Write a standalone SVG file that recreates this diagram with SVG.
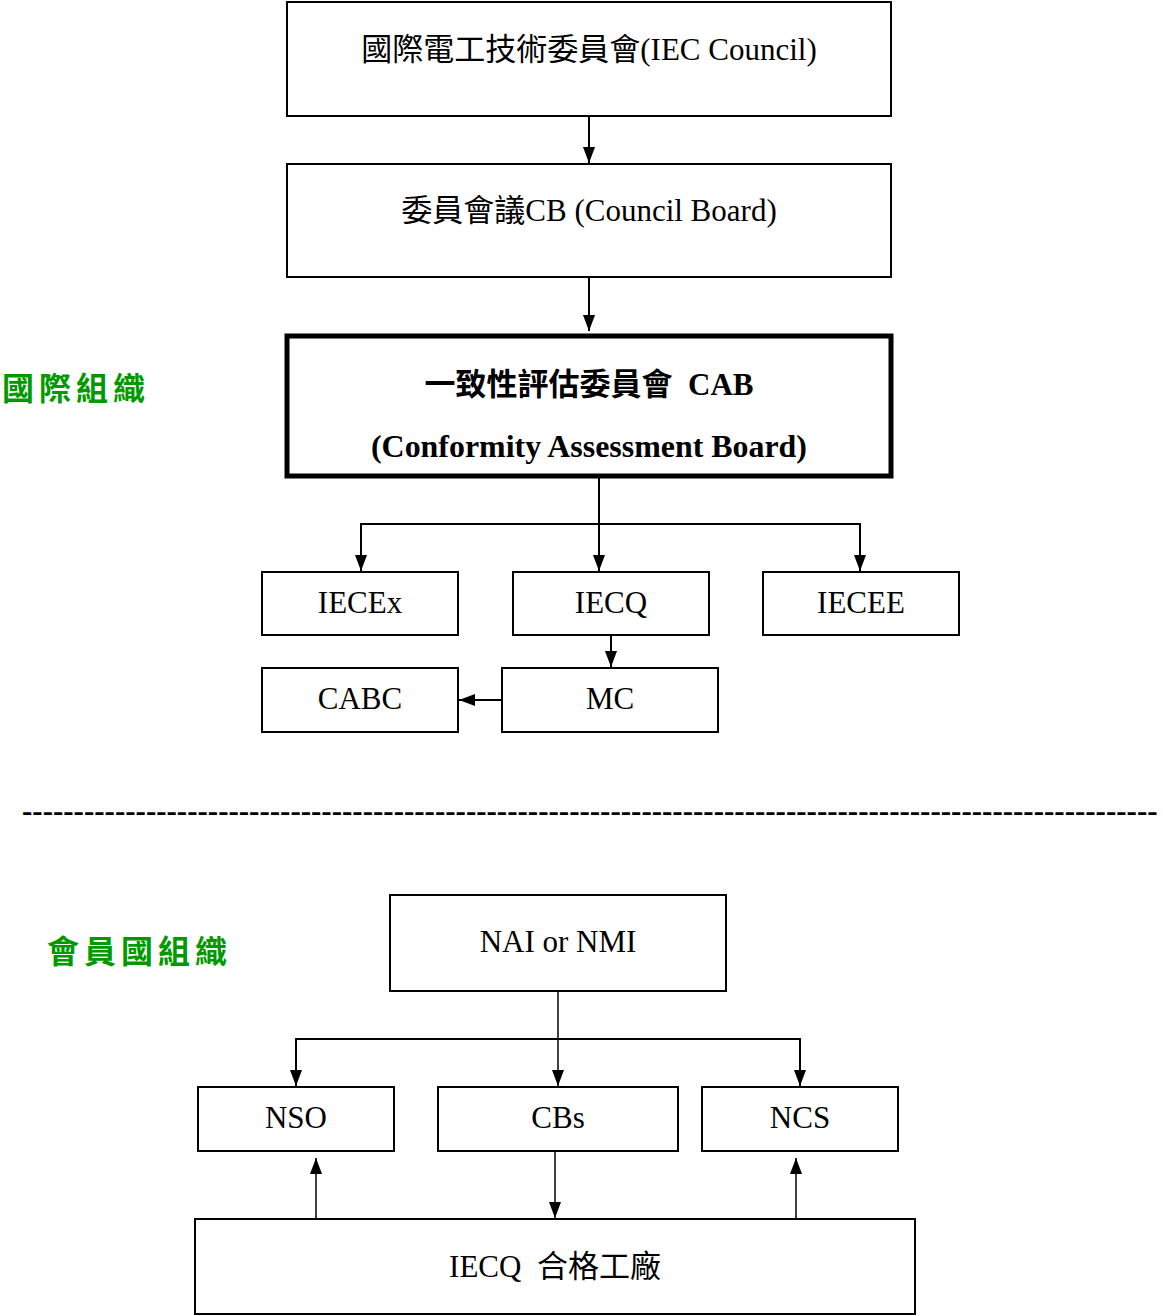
<svg xmlns="http://www.w3.org/2000/svg" width="1163" height="1316" viewBox="0 0 1163 1316">
<style>
.box{fill:#fff;stroke:#000;stroke-width:2}
.thick{fill:#fff;stroke:#000;stroke-width:5}
.t{font-family:"Liberation Serif","Noto Sans CJK TC",serif;font-size:31px;fill:#000;text-anchor:middle;white-space:pre}
.b{font-weight:bold}
.g{font-family:"Noto Sans CJK TC",sans-serif;font-size:32px;font-weight:bold;fill:#009a00;letter-spacing:5px}
.c{fill:none;stroke:#000;stroke-width:2}
.c1{fill:none;stroke:#000;stroke-width:1.5}
</style>
<defs>
<marker id="ah" viewBox="0 0 16 12" refX="16" refY="6" markerWidth="16" markerHeight="12" markerUnits="userSpaceOnUse" orient="auto">
<path d="M0,0 L16,6 L0,12 z" fill="#000"/>
</marker>
</defs>

<g id="label-intl"><text class="g" x="2" y="400">國際組織</text></g>
<g id="label-member"><text class="g" x="47" y="963">會員國組織</text></g>

<g id="connectors">
<line class="c" x1="589" y1="116" x2="589" y2="163" marker-end="url(#ah)"/>
<line class="c" x1="589" y1="277" x2="589" y2="331" marker-end="url(#ah)"/>
<line class="c" x1="599" y1="478" x2="599" y2="571" marker-end="url(#ah)"/>
<polyline class="c" points="361,560 361,524 860,524 860,560"/>
<line class="c" x1="361" y1="530" x2="361" y2="571" marker-end="url(#ah)"/>
<line class="c" x1="860" y1="530" x2="860" y2="571" marker-end="url(#ah)"/>
<line class="c" x1="611" y1="636" x2="611" y2="667" marker-end="url(#ah)"/>
<line class="c" x1="502" y1="700" x2="459" y2="700" marker-end="url(#ah)"/>
<line class="c1" x1="558" y1="991" x2="558" y2="1086" marker-end="url(#ah)"/>
<polyline class="c" points="296,1075 296,1039 800,1039 800,1075"/>
<line class="c" x1="296" y1="1050" x2="296" y2="1086" marker-end="url(#ah)"/>
<line class="c" x1="800" y1="1050" x2="800" y2="1086" marker-end="url(#ah)"/>
<line class="c1" x1="555" y1="1147" x2="555" y2="1218" marker-end="url(#ah)"/>
<line class="c1" x1="316" y1="1218" x2="316" y2="1158" marker-end="url(#ah)"/>
<line class="c1" x1="796" y1="1218" x2="796" y2="1158" marker-end="url(#ah)"/>
</g>

<g id="iec-council"><rect class="box" x="287" y="2" width="604" height="114"/><text class="t" x="589" y="60">國際電工技術委員會(IEC Council)</text></g>
<g id="council-board"><rect class="box" x="287" y="164" width="604" height="113"/><text class="t" x="589" y="221">委員會議CB (Council Board)</text></g>
<g id="cab"><rect class="thick" x="287" y="336" width="604" height="140"/><text class="t b" x="589" y="395" xml:space="preserve">一致性評估委員會  CAB</text><text class="t b" x="589" y="457" textLength="436" lengthAdjust="spacingAndGlyphs">(Conformity Assessment Board)</text></g>
<g id="iecex"><rect class="box" x="262" y="572" width="196" height="63"/><text class="t" x="360" y="613">IECEx</text></g>
<g id="iecq"><rect class="box" x="513" y="572" width="196" height="63"/><text class="t" x="611" y="613">IECQ</text></g>
<g id="iecee"><rect class="box" x="763" y="572" width="196" height="63"/><text class="t" x="861" y="613">IECEE</text></g>
<g id="cabc"><rect class="box" x="262" y="668" width="196" height="64"/><text class="t" x="360" y="709">CABC</text></g>
<g id="mc"><rect class="box" x="502" y="668" width="216" height="64"/><text class="t" x="610" y="709">MC</text></g>

<g id="separator"><text class="t b" x="22" y="821" style="text-anchor:start">--------------------------------------------------------------------------------------------------------------</text></g>

<g id="nai"><rect class="box" x="390" y="895" width="336" height="96"/><text class="t" x="558" y="952">NAI or NMI</text></g>
<g id="nso"><rect class="box" x="198" y="1087" width="196" height="64"/><text class="t" x="296" y="1128">NSO</text></g>
<g id="cbs"><rect class="box" x="438" y="1087" width="240" height="64"/><text class="t" x="558" y="1128">CBs</text></g>
<g id="ncs"><rect class="box" x="702" y="1087" width="196" height="64"/><text class="t" x="800" y="1128">NCS</text></g>
<g id="factory"><rect class="box" x="195" y="1219" width="720" height="95"/><text class="t" x="555" y="1277" xml:space="preserve">IECQ  合格工廠</text></g>
</svg>
